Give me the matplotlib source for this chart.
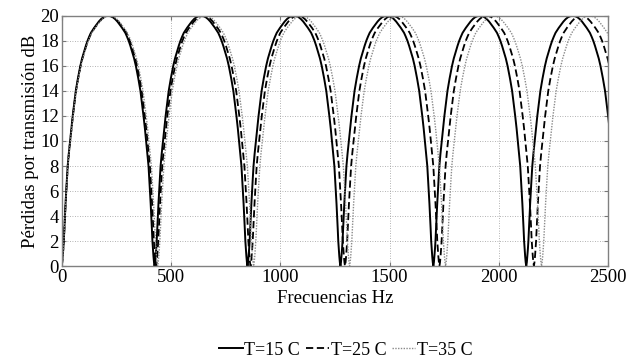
import numpy as np
import matplotlib
matplotlib.use("Agg")
import matplotlib.pyplot as plt

plt.rcParams['font.family'] = ['Liberation Serif', 'DejaVu Serif']

# one arch (rising half), position as fraction of the null spacing -> loss in dB
arch_frac = [0.0, 0.006, 0.012, 0.018, 0.023, 0.029, 0.035, 0.042, 0.049,
             0.057, 0.065, 0.077, 0.091, 0.104, 0.119, 0.135, 0.152, 0.175,
             0.201, 0.22, 0.24, 0.26, 0.278, 0.297, 0.315, 0.333, 0.35,
             0.375, 0.40, 0.425, 0.45, 0.475, 0.5]
arch_db = [0, 0.3, 0.8, 1.4, 2, 3, 4, 5, 6,
           7, 8, 9, 10, 11, 12, 13, 14, 15,
           16, 16.6, 17.1, 17.6, 18, 18.35, 18.65, 18.85, 19.05,
           19.3, 19.55, 19.75, 19.9, 19.98, 20]

# spacing between nulls (Hz) for each temperature
temps = ['T=15 C', 'T=25 C', 'T=35 C']
null_spacing = [425, 432, 439]
n_arches = 6

styles = [dict(color='black', lw=1.4, ls='-'),
          dict(color='black', lw=1.3, ls=(0, (4, 2))),
          dict(color='#8a8a8a', lw=1.0, ls=(0, (1, 1)))]


def arch_curve(P):
    fr = np.array(arch_frac)
    db = np.array(arch_db)
    xs, ys = [], []
    for k in range(n_arches):
        xs.append((k + fr) * P)
        ys.append(db)
        xs.append((k + 1 - fr[::-1]) * P)
        ys.append(db[::-1])
    return np.concatenate(xs), np.concatenate(ys)


fig = plt.figure(figsize=(6.29, 3.62), dpi=100)
ax = fig.add_axes([0.098, 0.265, 0.869, 0.691])

for name, P, st in zip(temps, null_spacing, styles):
    x, y = arch_curve(P)
    ax.plot(x, y, label=name, **st)

ax.set_xlim(0, 2500)
ax.set_ylim(0, 20)
ax.set_xticks(np.arange(0, 2501, 500))
ax.set_yticks(np.arange(0, 21, 2))
ax.grid(True, ls=(0, (1, 2)), color='#9a9a9a', lw=0.6)
ax.tick_params(direction='in', top=True, right=True, labelsize=13.5,
               length=3, color='#777777', pad=2)
for s in ax.spines.values():
    s.set_color('#808080')
    s.set_linewidth(1.0)

ax.set_xlabel('Frecuencias Hz', fontsize=13.5, labelpad=3)
ax.set_ylabel('Pérdidas por transmisión dB', fontsize=13.5, labelpad=1)

fig.legend(loc='center', bbox_to_anchor=(0.55, 0.033), ncol=3, frameon=False,
           fontsize=13, handlelength=1.3, handletextpad=0.1, columnspacing=0.3)

fig.savefig('out.png', dpi=100)
